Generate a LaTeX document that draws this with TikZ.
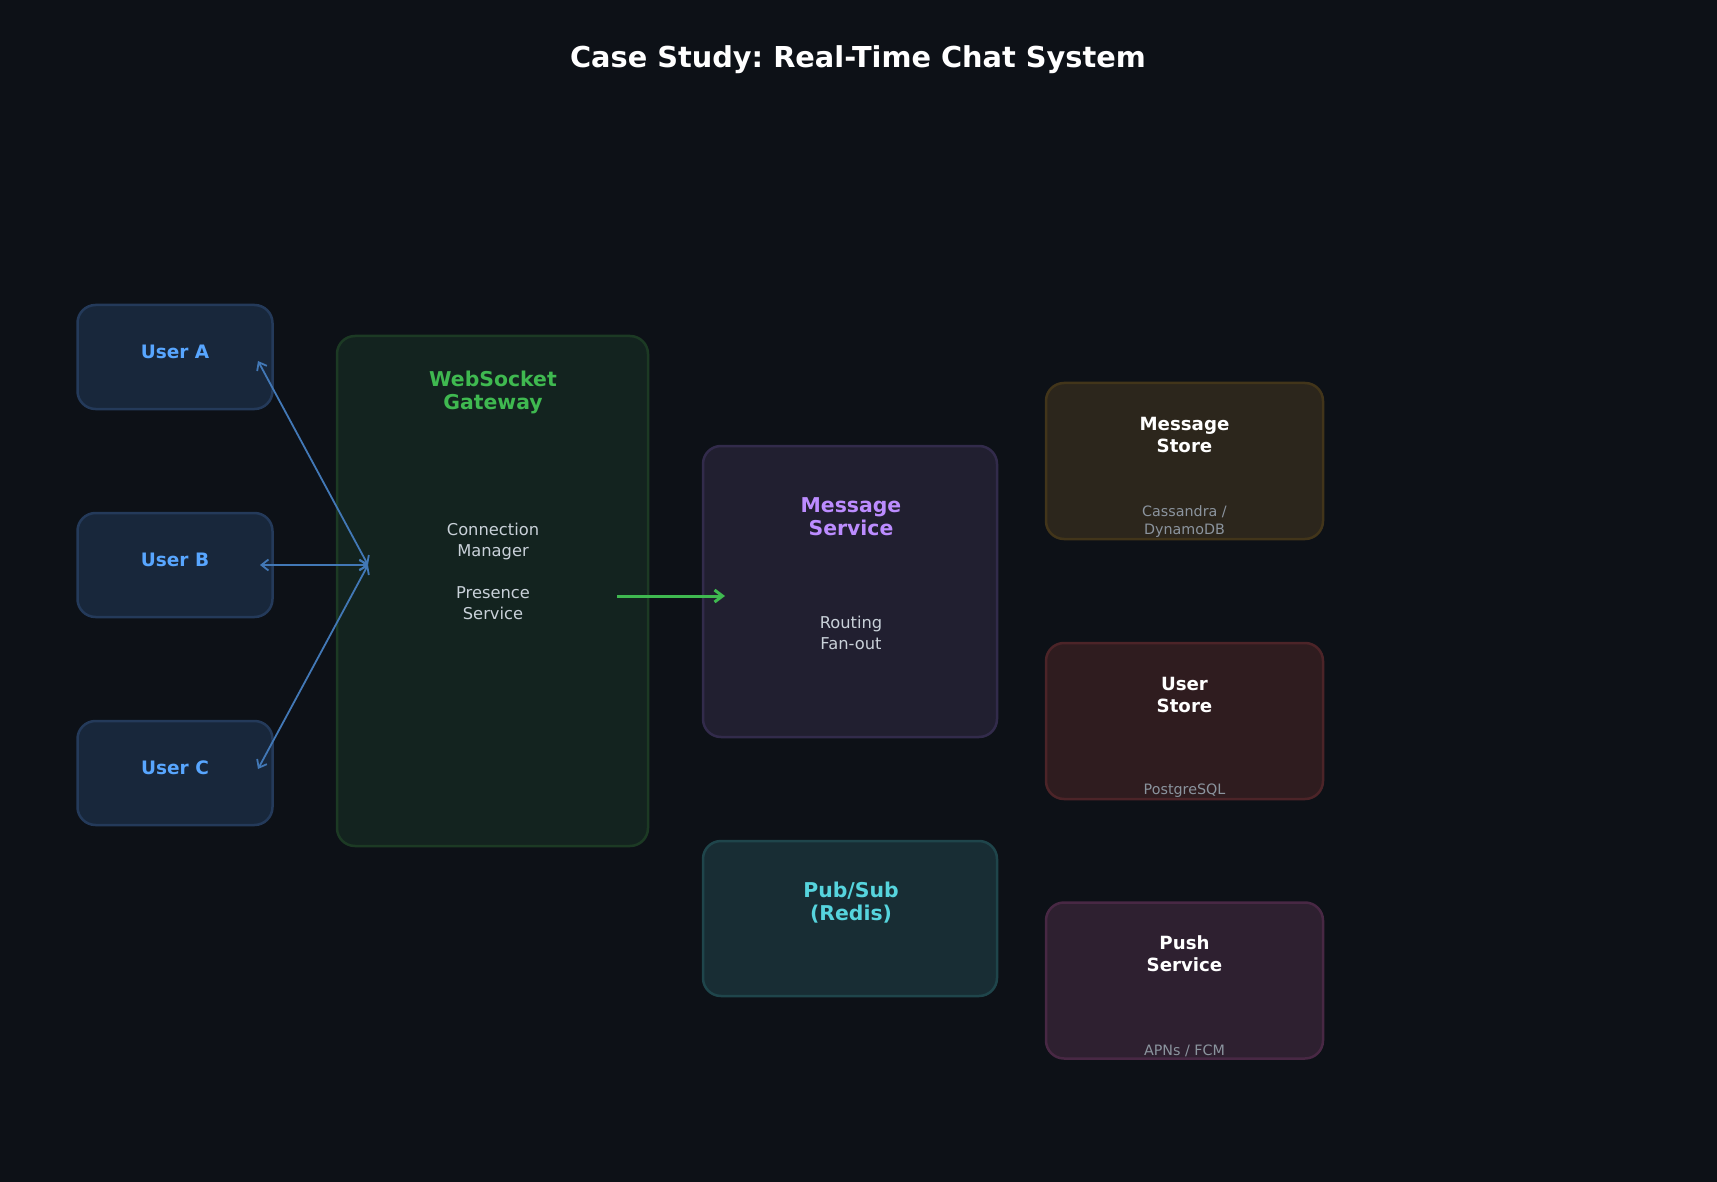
\documentclass[tikz,border=0pt]{standalone}
\usepackage{fontspec}
\setmainfont{DejaVu Sans}
\usepackage{tikz}
\usetikzlibrary{arrows.meta}
\frenchspacing
\definecolor{bg}{RGB}{13, 17, 23}
\definecolor{userfill}{RGB}{24, 39, 59}
\definecolor{userline}{RGB}{36, 58, 90}
\definecolor{usertext}{RGB}{88, 166, 255}
\definecolor{gwfill}{RGB}{19, 35, 31}
\definecolor{gwline}{RGB}{28, 58, 36}
\definecolor{gwtext}{RGB}{63, 185, 80}
\definecolor{msgfill}{RGB}{33, 31, 48}
\definecolor{msgline}{RGB}{50, 43, 75}
\definecolor{msgtext}{RGB}{188, 140, 255}
\definecolor{psfill}{RGB}{24, 45, 52}
\definecolor{psline}{RGB}{31, 69, 75}
\definecolor{pstext}{RGB}{86, 212, 221}
\definecolor{msfill}{RGB}{44, 38, 28}
\definecolor{msline}{RGB}{66, 53, 26}
\definecolor{usfill}{RGB}{47, 28, 31}
\definecolor{usline}{RGB}{76, 36, 40}
\definecolor{pushfill}{RGB}{46, 32, 48}
\definecolor{pushline}{RGB}{72, 40, 68}
\definecolor{body}{RGB}{201, 209, 217}
\definecolor{sub}{RGB}{139, 148, 158}
\definecolor{wire}{RGB}{66, 120, 182}

\begin{document}
\begin{tikzpicture}[x=1pt, y=-1pt,
   box/.style={draw, rounded corners=18, line width=2.5, inner sep=0},
   userbox/.style={box, draw=userline, fill=userfill,
                   minimum width=195, minimum height=104},
   svcbox/.style={box, minimum width=294},
   storebox/.style={box, minimum width=277, minimum height=156},
   usertitle/.style={text=usertext, font=\bfseries\fontsize{18.5}{22}\selectfont},
   svctitle/.style={align=center, font=\bfseries\fontsize{20.4}{23}\selectfont},
   storetitle/.style={align=center, text=white,
                      font=\bfseries\fontsize{18.2}{22}\selectfont},
   bodytext/.style={align=center, text=body, font=\fontsize{16.3}{21}\selectfont},
   subtext/.style={align=center, text=sub, font=\fontsize{14.3}{18}\selectfont}
  ]

  \fill[bg] (0, 0) rectangle (1717, 1182);
  \useasboundingbox (0, 0) rectangle (1717, 1182);

  \node (T) at (858, 60) [text=white, font=\bfseries\fontsize{28.8}{34}\selectfont]
    {Case Study: Real-Time Chat System};

  % clients
  \node (UA) at (175, 357) [userbox] {};
  \node (UB) at (175, 565) [userbox] {};
  \node (UC) at (175, 773) [userbox] {};
  \node (UAt) at (175, 352) [usertitle] {User A};
  \node (UBt) at (175, 560) [usertitle] {User B};
  \node (UCt) at (175, 768) [usertitle] {User C};

  % gateway
  \node (GW) at (492.5, 591) [box, draw=gwline, fill=gwfill,
                              minimum width=311, minimum height=510] {};
  \node (GWt) at (493, 392) [svctitle, text=gwtext] {WebSocket\\Gateway};
  \node (GWb) at (493, 571) [bodytext]
    {Connection\\Manager\\[21pt]Presence\\Service};

  % core services
  \node (MS) at (850, 591.5) [svcbox, draw=msgline, fill=msgfill,
                              minimum height=291] {};
  \node (MSt) at (851, 516.5) [svctitle, text=msgtext] {Message\\Service};
  \node (MSb) at (851, 633) [bodytext] {Routing\\Fan-out};

  \node (PS) at (850, 918.5) [svcbox, draw=psline, fill=psfill,
                              minimum height=155] {};
  \node (PSt) at (851, 902.5) [svctitle, text=pstext] {Pub/Sub\\(Redis)};

  % storage
  \node (ST1) at (1184.5, 461) [storebox, draw=msline, fill=msfill] {};
  \node (ST1t) at (1184.5, 435) [storetitle] {Message\\Store};
  \node (ST1s) at (1184.5, 521.5) [subtext] {Cassandra /\\DynamoDB};

  \node (ST2) at (1184.5, 721) [storebox, draw=usline, fill=usfill] {};
  \node (ST2t) at (1184.5, 694.5) [storetitle] {User\\Store};
  \node (ST2s) at (1184.5, 790.5) [subtext] {PostgreSQL};

  \node (ST3) at (1184.5, 980.5) [storebox, draw=pushline, fill=pushfill] {};
  \node (ST3t) at (1184.5, 953.5) [storetitle] {Push\\Service};
  \node (ST3s) at (1184.5, 1050.5) [subtext] {APNs / FCM};

  % connectors
  \coordinate (GWin) at (368, 565);
  \coordinate (A) at (258, 361);
  \coordinate (B) at (260, 565);
  \coordinate (C) at (258, 769);
  \coordinate (GWout) at (617, 596);
  \coordinate (MSin) at (725, 596);

  \foreach \B/\E in {A/GWin, B/GWin, C/GWin} {
    \draw[{Straight Barb[length=7, width=11]}-{Straight Barb[length=7, width=11]},
          color=wire, line width=1.8] (\B) -- (\E);
  }
  \draw[-{Straight Barb[length=8, width=12]}, color=gwtext, line width=3]
    (GWout) -- (MSin);

\end{tikzpicture}
\end{document}
